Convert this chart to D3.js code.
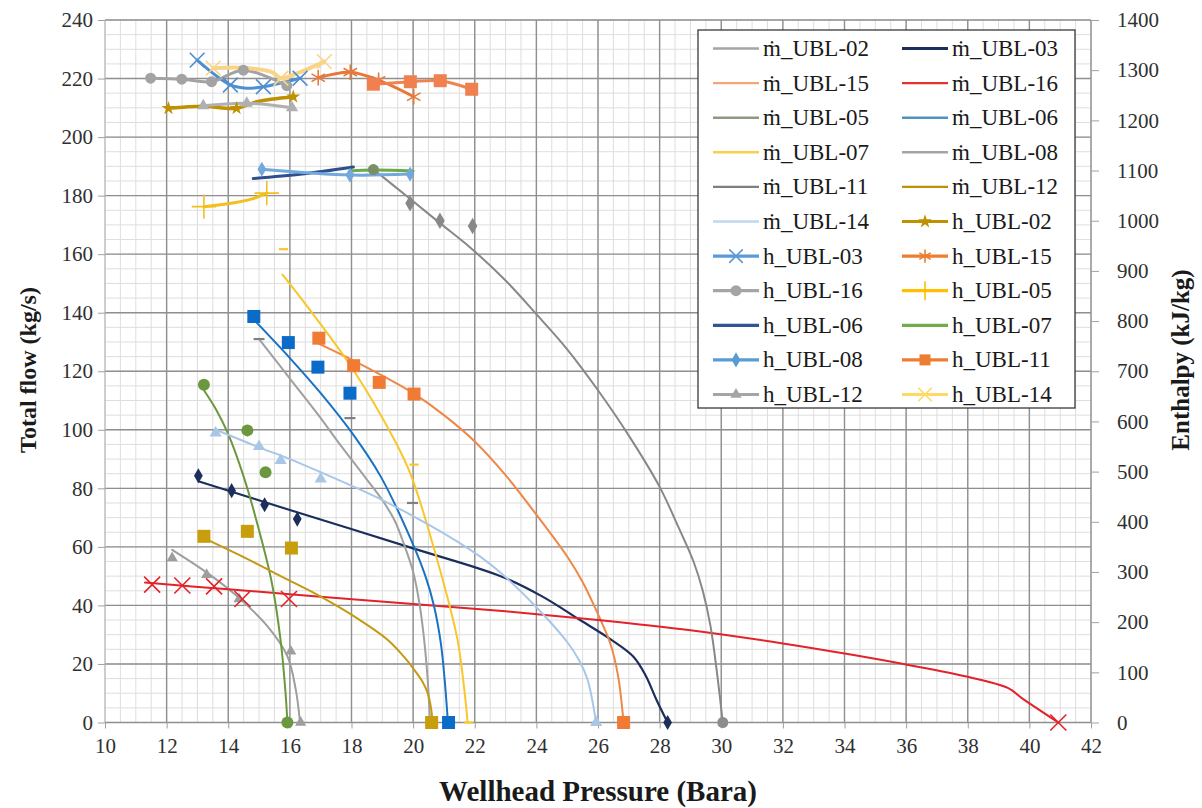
<!DOCTYPE html>
<html><head><meta charset="utf-8">
<script src="https://cdn.jsdelivr.net/npm/d3@7"></script>
<style>body{margin:0;background:#fff}svg{display:block}</style>
</head><body>
<svg id="chart" width="1202" height="808"></svg>
<script>
// Axis ticks
const pressureTicks = d3.range(10, 43, 2);
const flowTicks = d3.range(0, 241, 20);
const enthalpyTicks = d3.range(0, 1401, 100);

// Mass-flow deliverability curves: [wellhead pressure (bara), total flow (kg/s)]
const m02Curve = [[12.18,59],[13.32,51.1],[14.29,43.1],[15.27,32.9],[15.92,22.6],[16.19,11.3],[16.33,0]];
const m02Points = [[12.18,56.2],[13.3,50.5],[14.35,42.2],[16.03,24.3],[16.35,0]];
const m03Curve = [[13.03,82.4],[16,72.6],[20,59.5],[22.86,49.9],[24.2,43],[25.42,35],[26.4,28.5],[27.15,22.5],[27.55,16],[27.9,7.7],[28.26,0]];
const m03Points = [[13.03,84.3],[14.11,79.2],[15.18,74.4],[16.24,69.5],[28.26,0]];
const m15Curve = [[16.9,129.6],[18,124],[19,118.5],[20,112.5],[21,105],[22,96],[23,84.5],[24,71],[25,56.7],[25.5,48],[26,37],[26.4,27],[26.65,16],[26.83,0]];
const m15Points = [[16.94,131.3],[18.07,121.9],[18.9,116.2],[20.03,112.2],[26.83,0]];
const m16Curve = [[11.3,47.8],[14,45.5],[17,43],[20,40.5],[23,38],[26,35],[29,31.5],[32,27],[34.2,23.2],[36,19.8],[38,15.6],[39.3,11.8],[39.8,8],[40.94,0]];
const m16Points = [[11.53,47.1],[12.51,46.8],[13.54,46.5],[14.46,42.2],[15.97,42.2],[40.94,0]];
const m05Curve = [[13.21,113.5],[13.6,107],[14.0,98.5],[14.5,84],[14.85,71.5],[15.4,48.5],[15.7,28],[15.86,10],[15.92,0]];
const m05Points = [[13.21,115.4],[14.62,99.8],[15.21,85.5],[15.92,0]];
const m06Curve = [[14.83,137.6],[16,124.5],[17,112.5],[18.08,98],[18.95,84],[19.93,62.5],[20.4,50],[20.68,39.7],[20.9,27],[21.02,15],[21.13,0]];
const m06Points = [[14.83,138.7],[15.95,129.8],[16.91,121.4],[17.95,112.5],[21.15,0]];
const m07Curve = [[15.76,153],[16.5,143],[17.98,121.7],[19.39,96.6],[19.93,84.5],[20.9,51.1],[21.44,28.3],[21.66,11.3],[21.77,0]];
const m07Points = [[15.79,161.7],[20.03,88.1],[21.8,0]];
const m08Curve = [[15.0,131],[16,117.5],[17,104],[17.52,96.5],[18.5,83],[19,76],[19.4,69],[19.7,61],[20,51.5],[20.2,41],[20.35,29],[20.47,15],[20.55,0]];
const m08Points = [[15.0,131],[17.95,104],[19.98,75]];
const m11Curve = [[18.71,189],[19.9,178.9],[20.87,170.6],[21.85,162.3],[23,151],[24,139.5],[25,127.5],[26,113.5],[27,98],[28,80.5],[28.6,67],[29.1,55],[29.4,45],[29.65,33],[29.85,18],[30.05,0]];
const m11Points = [[19.9,177.4],[20.87,171.4],[21.93,169.6]];
const m11End = [[30.05,0]];
const m12Curve = [[13.21,63],[14.5,56.5],[15.8,49.5],[17,43],[18.2,35.5],[19.17,28.3],[19.7,22.5],[20.03,18.1],[20.3,14],[20.47,10.1],[20.58,5],[20.63,0]];
const m12Points = [[13.21,63.6],[14.62,65.3],[16.05,59.6],[20.6,0]];
const m14Curve = [[13.6,100],[15,94],[16,90],[17,85.5],[18.06,80.6],[19,76],[20,70.5],[21.33,62.5],[22.2,56.5],[22.86,51],[23.9,40.5],[25,27.5],[25.4,21],[25.66,14.7],[25.94,0]];
const m14Points = [[13.59,98.9],[15.0,94.3],[15.7,89.5],[17.0,83.2],[25.94,0]];

// Enthalpy traces: [wellhead pressure (bara), enthalpy (kJ/kg)]
const h02Curve = [[12.06,1224],[13.19,1228],[14.27,1224],[14.92,1237],[16.11,1247]];
const h02Points = [[12.06,1224],[14.27,1224],[16.11,1247]];
const h03Curve = [[12.99,1320],[14.07,1270.5],[14.6,1264],[15.14,1267],[16.33,1284]];
const h03Points = [[12.99,1320],[14.07,1270.5],[15.14,1267],[16.33,1284]];
const h15Curve = [[16.92,1285],[17.96,1296],[18.88,1280],[20.02,1247]];
const h15Points = h15Curve;
const h16Curve = [[11.48,1284],[12.49,1282],[13.46,1277],[14.49,1300],[15.9,1269]];
const h16Points = h16Curve;
const h05Curve = [[13.21,1028],[14.2,1036],[14.8,1044],[15.25,1055]];
const h05Points = [[13.21,1028],[15.25,1055]];
const h06Curve = [[14.81,1084],[16.4,1093],[18.06,1107]];
const h07Curve = [[17.95,1099],[18.71,1101],[20.0,1099]];
const h07Points = [[18.71,1102]];
const h08Curve = [[15.09,1102.5],[17.95,1091],[19.9,1093]];
const h08Points = h08Curve;
const h11Curve = [[18.71,1272],[19.91,1277],[20.88,1279],[21.9,1262]];
const h11Points = h11Curve;
const h12Curve = [[13.19,1229],[14.6,1234],[16.07,1225]];
const h12Points = h12Curve;
const h14Curve = [[13.51,1304],[14.4,1305],[15.38,1297],[15.71,1284],[16.25,1294],[17.12,1317]];
const h14Points = [[13.51,1304],[15.71,1284],[17.12,1317]];

const legendNames = ["ṁ_UBL-02","ṁ_UBL-03","ṁ_UBL-15","ṁ_UBL-16","ṁ_UBL-05","ṁ_UBL-06","ṁ_UBL-07","ṁ_UBL-08","ṁ_UBL-11","ṁ_UBL-12","ṁ_UBL-14","h_UBL-02","h_UBL-03","h_UBL-15","h_UBL-16","h_UBL-05","h_UBL-06","h_UBL-07","h_UBL-08","h_UBL-11","h_UBL-12","h_UBL-14"];

const FONT = "Liberation Serif";
const svg = d3.select("#chart");
const x = d3.scaleLinear().domain([10, 42]).range([105, 1091]);
const yL = d3.scaleLinear().domain([0, 240]).range([722.5, 20]);
const yR = d3.scaleLinear().domain([0, 1400]).range([722.5, 20]);

// Serif face applied directly on each text element
const serif = sel => sel.attr("font-family", FONT).style("font-family", FONT, "important");

// Grid: minor lines every 0.5 bara / 5 kg/s, major every 2 bara / 20 kg/s
const grid = svg.append("g");
d3.range(10, 42.01, 0.5).forEach(v => {
  grid.append("line").attr("x1", x(v)).attr("x2", x(v)).attr("y1", yL(240)).attr("y2", yL(0))
    .attr("stroke", "#dedede").attr("stroke-width", 1);
});
d3.range(0, 240.01, 5).forEach(v => {
  grid.append("line").attr("x1", x(10)).attr("x2", x(42)).attr("y1", yL(v)).attr("y2", yL(v))
    .attr("stroke", "#dedede").attr("stroke-width", 1);
});
pressureTicks.filter(v => v > 10).forEach(v => {
  grid.append("line").attr("x1", x(v)).attr("x2", x(v)).attr("y1", yL(240)).attr("y2", yL(0))
    .attr("stroke", "#8f8f8f").attr("stroke-width", 1.4);
});
flowTicks.forEach(v => {
  grid.append("line").attr("x1", x(10)).attr("x2", x(42)).attr("y1", yL(v)).attr("y2", yL(v))
    .attr("stroke", "#8f8f8f").attr("stroke-width", 1.4);
});
grid.append("line").attr("x1", x(10)).attr("x2", x(10)).attr("y1", yL(240)).attr("y2", yL(0))
  .attr("stroke", "#b8b8b8").attr("stroke-width", 1.2);

// Axes
const axL = svg.append("g").attr("transform", `translate(${x(10)},0)`)
  .call(d3.axisLeft(yL).tickValues(flowTicks).tickFormat(d3.format("d")).tickSize(7).tickPadding(5));
const axR = svg.append("g").attr("transform", `translate(${x(42)},0)`)
  .call(d3.axisRight(yR).tickValues(enthalpyTicks).tickFormat(d3.format("d")).tickSize(8).tickPadding(18));
const axB = svg.append("g").attr("transform", `translate(0,${yL(0)})`)
  .call(d3.axisBottom(x).tickValues(pressureTicks).tickFormat(d3.format("d")).tickSize(6).tickPadding(10));
[axL, axR, axB].forEach(a => {
  a.attr("font-family", FONT).attr("font-size", 21);
  a.select(".domain").remove();
  a.selectAll("line").attr("stroke", "#a0a0a0");
  a.selectAll("text").call(serif).attr("font-size", 21).attr("fill", "#303030");
});

// Axis titles
svg.append("text").attr("transform", "translate(36,370) rotate(-90)")
  .attr("text-anchor", "middle").call(serif).attr("font-weight", "bold")
  .attr("font-size", 24).attr("fill", "#1a1a1a").text("Total flow (kg/s)");
svg.append("text").attr("transform", "translate(1189,360) rotate(-90)")
  .attr("text-anchor", "middle").call(serif).attr("font-weight", "bold")
  .attr("font-size", 25).attr("fill", "#1a1a1a").text("Enthalpy (kJ/kg)");
svg.append("text").attr("x", 598).attr("y", 801)
  .attr("text-anchor", "middle").call(serif).attr("font-weight", "bold")
  .attr("font-size", 29).attr("fill", "#1a1a1a").text("Wellhead Pressure (Bara)");

// Series definitions
const series = [
  {name: "ṁ_UBL-02", y: yL, curve: m02Curve, points: m02Points, color: "#9e9e9e", lw: 2, marker: "triangle", ms: 11, legend: "#a5a5a5"},
  {name: "ṁ_UBL-03", y: yL, curve: m03Curve, points: m03Points, color: "#1c2f5c", lw: 2.2, marker: "diamond", ms: 11, legend: "#1c2f5c"},
  {name: "ṁ_UBL-15", y: yL, curve: m15Curve, points: m15Points, color: "#ee8848", lw: 2, marker: "square", ms: 13, mcolor: "#ef7b35", legend: "#f2a774"},
  {name: "ṁ_UBL-16", y: yL, curve: m16Curve, points: m16Points, color: "#e3222a", lw: 2, marker: "x", ms: 13, legend: "#e03434"},
  {name: "ṁ_UBL-05", y: yL, curve: m05Curve, points: m05Points, color: "#6b983f", lw: 2, marker: "circle", ms: 12, legend: "#8c9a84"},
  {name: "ṁ_UBL-06", y: yL, curve: m06Curve, points: m06Points, color: "#1a73c2", lw: 2, marker: "square", ms: 13, mcolor: "#0a6cc8", legend: "#4e92c2"},
  {name: "ṁ_UBL-07", y: yL, curve: m07Curve, points: m07Points, color: "#f8c72a", lw: 2, marker: "dash", ms: 9, legend: "#fbcf4a"},
  {name: "ṁ_UBL-08", y: yL, curve: m08Curve, points: m08Points, color: "#a0a0a0", lw: 2, marker: "dash", ms: 11, mcolor: "#808080", legend: "#a5a5a5"},
  {name: "ṁ_UBL-11", y: yL, curve: m11Curve, points: m11Points, color: "#888888", lw: 2, marker: "diamond", ms: 12, legend: "#7f7f7f"},
  {name: "ṁ_UBL-12", y: yL, curve: m12Curve, points: m12Points, color: "#c39a14", lw: 2, marker: "square", ms: 13, mcolor: "#c89e0c", legend: "#bf9000"},
  {name: "ṁ_UBL-14", y: yL, curve: m14Curve, points: m14Points, color: "#a8c7e7", lw: 2, marker: "triangle", ms: 12, legend: "#bdd7ee"},
  {name: "h_UBL-02", y: yR, curve: h02Curve, points: h02Points, color: "#bf9000", lw: 3.5, marker: "star", ms: 10, legend: "#bf9000"},
  {name: "h_UBL-03", y: yR, curve: h03Curve, points: h03Points, color: "#4f8fd0", lw: 3, marker: "x", ms: 12, legend: "#5b9bd5"},
  {name: "h_UBL-15", y: yR, curve: h15Curve, points: h15Points, color: "#e8783a", lw: 3, marker: "asterisk", ms: 13, legend: "#ed7d31"},
  {name: "h_UBL-16", y: yR, curve: h16Curve, points: h16Points, color: "#a3a3a3", lw: 3, marker: "circle", ms: 11, legend: "#a5a5a5"},
  {name: "h_UBL-05", y: yR, curve: h05Curve, points: h05Points, color: "#f2bf1c", lw: 3, marker: "plus", ms: 14, legend: "#ffc000"},
  {name: "h_UBL-06", y: yR, curve: h06Curve, points: [], color: "#2d4f8e", lw: 3, marker: null, legend: "#2f5597"},
  {name: "h_UBL-07", y: yR, curve: h07Curve, points: h07Points, color: "#6aab4a", lw: 3, marker: "circle", ms: 11, mcolor: "#7a8e68", legend: "#70ad47", legendMarker: false},
  {name: "h_UBL-08", y: yR, curve: h08Curve, points: h08Points, color: "#72a8dc", lw: 3, marker: "diamond", ms: 11, legend: "#5b9bd5"},
  {name: "h_UBL-11", y: yR, curve: h11Curve, points: h11Points, color: "#f08450", lw: 3, marker: "square", ms: 13, mcolor: "#f08050", legend: "#ed7d31"},
  {name: "h_UBL-12", y: yR, curve: h12Curve, points: h12Points, color: "#b0b0b0", lw: 3, marker: "triangle", ms: 12, legend: "#a5a5a5"},
  {name: "h_UBL-14", y: yR, curve: h14Curve, points: h14Points, color: "#f9d488", lw: 4, marker: "x", ms: 12, legend: "#ffd966"}
];

function drawMarker(g, shape, cx, cy, size, color) {
  if (!shape) return;
  const filled = {square: d3.symbolSquare, circle: d3.symbolCircle, diamond: d3.symbolDiamond, triangle: d3.symbolTriangle, star: d3.symbolStar};
  const stroked = {x: d3.symbolTimes, asterisk: d3.symbolAsterisk, plus: d3.symbolPlus};
  if (filled[shape]) {
    let area = size * size;
    if (shape === "circle") area = Math.PI * size * size / 4;
    if (shape === "diamond") area = size * size * 0.55;
    if (shape === "triangle") area = size * size * 0.45;
    if (shape === "star") area = size * size * 0.6;
    g.append("path").attr("d", d3.symbol(filled[shape], area)())
      .attr("transform", `translate(${cx},${cy})`).attr("fill", color);
  } else if (stroked[shape]) {
    g.append("path").attr("d", d3.symbol(stroked[shape], size * size)())
      .attr("transform", `translate(${cx},${cy})`).attr("fill", "none")
      .attr("stroke", color).attr("stroke-width", 1.6);
  } else if (shape === "dash") {
    g.append("line").attr("x1", cx - size / 2).attr("x2", cx + size / 2).attr("y1", cy).attr("y2", cy)
      .attr("stroke", color).attr("stroke-width", 2.2);
  }
}

const plot = svg.append("g");
const line = yScale => d3.line().x(d => x(d[0])).y(d => yScale(d[1])).curve(d3.curveCatmullRom.alpha(0.5));

// curves first, then markers on top
series.forEach(s => {
  plot.append("path").datum(s.curve).attr("d", line(s.y)).attr("fill", "none")
    .attr("stroke", s.color).attr("stroke-width", s.lw).attr("stroke-linejoin", "round").attr("stroke-linecap", "round");
});
series.forEach(s => {
  s.points.forEach(p => drawMarker(plot, s.marker, x(p[0]), s.y(p[1]), s.ms, s.mcolor || s.color));
});
m11End.forEach(p => drawMarker(plot, "circle", x(p[0]), yL(p[1]), 11, "#8c8c8c"));

// Legend: flow entries are plain lines, enthalpy entries carry their marker
const lg = svg.append("g");
lg.append("rect").attr("x", 698).attr("y", 30).attr("width", 377).attr("height", 378)
  .attr("fill", "#fff").attr("stroke", "#3a3a3a").attr("stroke-width", 1.3);
legendNames.forEach((name, i) => {
  const s = series.find(d => d.name === name);
  const col = i % 2, row = Math.floor(i / 2);
  const x0 = col === 0 ? 713 : 902;
  const cy = 48.5 + row * 34.6;
  const isH = s.y === yR;
  lg.append("line").attr("x1", x0).attr("x2", x0 + 46).attr("y1", cy).attr("y2", cy)
    .attr("stroke", s.legend).attr("stroke-width", isH ? 3.2 : (s.lw > 2 ? 3 : 2.4));
  if (isH && s.legendMarker !== false) drawMarker(lg, s.marker, x0 + 23, cy, Math.min(s.ms, 11), s.legend);
  lg.append("text").attr("x", x0 + 50).attr("y", cy + 7.5)
    .call(serif).attr("font-size", 23).attr("fill", "#1a1a1a").text(name);
});
</script>
</body></html>
